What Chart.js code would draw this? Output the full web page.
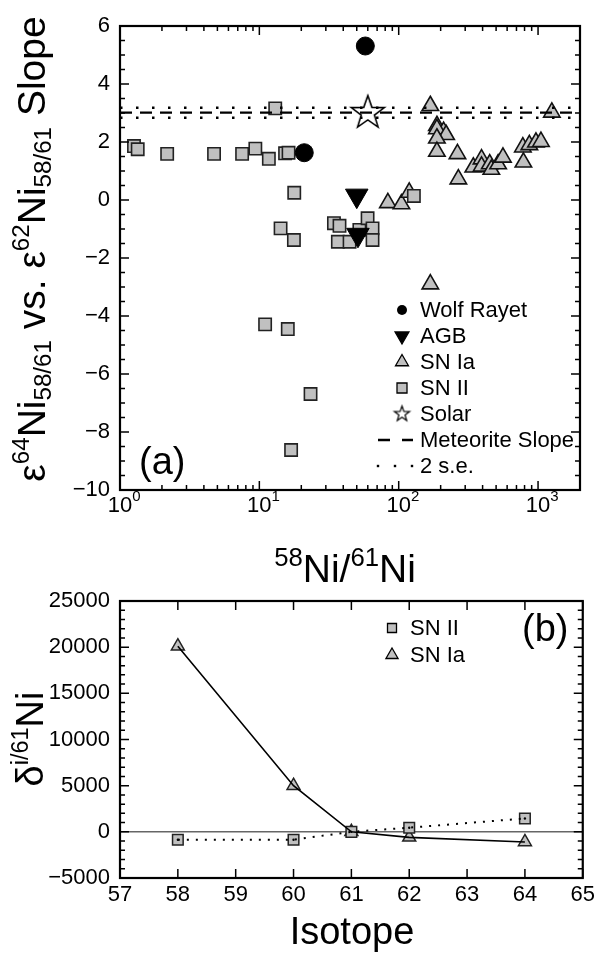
<!DOCTYPE html>
<html>
<head>
<meta charset="utf-8">
<title>Ni isotope slopes</title>
<script src="https://cdn.jsdelivr.net/npm/chart.js@4.4.1/dist/chart.umd.min.js"></script>
<style>
  html, body { margin: 0; padding: 0; background: #fff; }
  #wrap { position: relative; width: 599px; height: 954px; overflow: hidden; }
  canvas { position: absolute; left: 0; }
  #chartA { top: 0; }
  #chartB { top: 560px; }
</style>
</head>
<body>
<div id="wrap">
  <canvas id="chartA" width="599" height="600"></canvas>
  <canvas id="chartB" width="599" height="394"></canvas>
</div>
<script>
// ---- panel (a): slope vs 58Ni/61Ni ----
const wolfRayetX = [21.0, 57.6];
const wolfRayetY = [1.63, 5.31];
const agbX = [50, 51];
const agbY = [0.15, -1.2];
const solarX = [60];
const solarY = [3.0];
const snIIX = [1.26, 1.34, 2.18, 4.73, 7.52, 9.36, 11.7, 13.0, 15.3, 16.2, 17.8, 14.2, 17.7,
  34.3, 37.6, 36.6, 44.4, 52.2, 59.8, 64.9, 64.9, 128.5, 11.0, 16.0, 23.3, 16.9];
const snIIY = [1.86, 1.75, 1.59, 1.59, 1.59, 1.77, 1.42, 3.16, 1.61, 1.63, 0.25, -0.98, -1.38,
  -0.80, -0.89, -1.44, -1.44, -1.03, -0.63, -0.98, -1.38, 0.14, -4.29, -4.45, -6.69, -8.62];
const snIaX = [83.6, 104.6, 119, 168.6, 188, 210, 188, 219, 188, 188, 264, 268, 343, 393, 393,
  450, 462, 517, 560, 778, 866, 966, 1049, 785, 1256, 168.6];
const snIaY = [-0.1, -0.14, 0.26, 3.25, 2.56, 2.36, 2.45, 2.25, 2.13, 1.67, 1.59, 0.72, 1.13, 1.41, 1.16,
  1.24, 1.05, 1.24, 1.47, 1.82, 1.9, 1.99, 2.01, 1.3, 3.02, -2.9];
const meteoriteSlope = 3.01;
const slopeErr = 0.17;
const ratioRange = [1, 2000];
const ratioLabels = [1, 10, 100, 1000];
const slopeRange = [-10, 6];

// ---- panel (b): delta i/61 Ni vs isotope ----
const isotopes = [58, 60, 61, 62, 64];
const deltaSNII = [-850, -850, 0, 450, 1450];
const deltaSNIa = [20100, 5000, 0, -600, -1100];
const isotopeRange = [57, 65];
const deltaRange = [-5000, 25000];

const FONT = '"Liberation Sans", Arial, Helvetica, sans-serif';
const GREY = '#c0c0c0';
const pts = (xs, ys) => xs.map((x, i) => ({ x, y: ys[i] }));
const minus = v => (v < 0 ? '\u2212' + Math.abs(v) : String(v));

// text with super/subscripts, runs = [[text, 'n'|'sup'|'sub'], ...]
function drawRich(ctx, runs, x, y, size, align, scr = 0.62) {
  const parts = runs.map(([t, k]) => {
    const s = k === 'n' ? size : size * scr;
    ctx.font = s + 'px ' + FONT;
    return { t, k, s, w: ctx.measureText(t).width };
  });
  const total = parts.reduce((a, p) => a + p.w, 0);
  let cx = align === 'center' ? x - total / 2 : (align === 'right' ? x - total : x);
  ctx.textAlign = 'left';
  ctx.textBaseline = 'alphabetic';
  parts.forEach(p => {
    ctx.font = p.s + 'px ' + FONT;
    const dy = p.k === 'sup' ? -size * 0.4 : (p.k === 'sub' ? size * 0.15 : 0);
    ctx.fillText(p.t, cx, y + dy);
    cx += p.w;
  });
}

function drawFrame(chart, xTicks, yTicks) {
  const { ctx, chartArea: a, scales: { x, y } } = chart;
  ctx.save();
  ctx.strokeStyle = '#000';
  ctx.lineWidth = 1.5;
  ctx.beginPath();
  xTicks.forEach(([v, len]) => {
    const px = x.getPixelForValue(v);
    ctx.moveTo(px, a.bottom); ctx.lineTo(px, a.bottom - len);
    ctx.moveTo(px, a.top); ctx.lineTo(px, a.top + len);
  });
  yTicks.forEach(([v, len]) => {
    const py = y.getPixelForValue(v);
    ctx.moveTo(a.left, py); ctx.lineTo(a.left + len, py);
    ctx.moveTo(a.right, py); ctx.lineTo(a.right - len, py);
  });
  ctx.stroke();
  ctx.lineWidth = 2.2;
  ctx.strokeRect(a.left, a.top, a.right - a.left, a.bottom - a.top);
  ctx.restore();
}

function starCanvas(R, lw) {
  const size = Math.ceil(2 * R + 2 * lw + 2);
  const c = document.createElement('canvas');
  c.width = c.height = size;
  const g = c.getContext('2d');
  g.beginPath();
  for (let i = 0; i < 10; i++) {
    const r = i % 2 ? R * 0.4 : R;
    const ang = -Math.PI / 2 + i * Math.PI / 5;
    g.lineTo(size / 2 + r * Math.cos(ang), size / 2 + r * Math.sin(ang));
  }
  g.closePath();
  g.fillStyle = '#fff';
  g.fill();
  g.lineWidth = lw;
  g.strokeStyle = '#000';
  g.stroke();
  return c;
}
const bigStar = starCanvas(17.4, 1.6);
const smallStar = starCanvas(8, 1.2);

// legend marker shapes
function marker(ctx, kind, x, y, r) {
  ctx.save();
  ctx.strokeStyle = '#000';
  ctx.lineWidth = 1.3;
  ctx.beginPath();
  if (kind === 'circle') {
    ctx.arc(x, y, r, 0, Math.PI * 2);
    ctx.fillStyle = '#000'; ctx.fill();
  } else if (kind === 'down' || kind === 'up') {
    const s = kind === 'up' ? 1 : -1;
    ctx.moveTo(x, y - s * r);
    ctx.lineTo(x + r * 0.866, y + s * r / 2);
    ctx.lineTo(x - r * 0.866, y + s * r / 2);
    ctx.closePath();
    ctx.fillStyle = kind === 'up' ? GREY : '#000';
    ctx.fill(); ctx.stroke();
  } else if (kind === 'square') {
    ctx.rect(x - r, y - r, 2 * r, 2 * r);
    ctx.fillStyle = GREY; ctx.fill(); ctx.stroke();
  } else if (kind === 'star') {
    ctx.drawImage(smallStar, x - smallStar.width / 2, y - smallStar.height / 2);
  } else if (kind === 'dash') {
    ctx.lineWidth = 2.5;
    ctx.moveTo(x - 24, y); ctx.lineTo(x - 12, y);
    ctx.moveTo(x, y); ctx.lineTo(x + 11, y);
    ctx.stroke();
  } else if (kind === 'dots') {
    ctx.fillStyle = '#000';
    [-24, -7, 10].forEach(d => ctx.fillRect(x + d - 1.2, y - 1.2, 2.4, 2.4));
  }
  ctx.restore();
}

const legendA = [
  ['Wolf Rayet', 'circle', 5], ['AGB', 'down', 8], ['SN Ia', 'up', 7.5], ['SN II', 'square', 5],
  ['Solar', 'star', 0], ['Meteorite Slope', 'dash', 0], ['2 s.e.', 'dots', 0]
];

const panelA = {
  id: 'panelA',
  afterDraw(chart) {
    const { ctx, scales: { x } } = chart;
    const xTicks = [];
    for (let k = 0; k <= 3; k++) {
      for (let m = 1; m <= 9; m++) {
        const v = m * Math.pow(10, k);
        if (v <= ratioRange[1]) xTicks.push([v, m === 1 ? 9 : 5]);
      }
    }
    const yTicks = [];
    for (let v = slopeRange[0]; v <= slopeRange[1]; v += 0.5) yTicks.push([v, v % 2 === 0 ? 9 : 5]);
    drawFrame(chart, xTicks, yTicks);

    ctx.save();
    ctx.fillStyle = '#000';
    // log axis labels 10^n
    ratioLabels.forEach(v => {
      const px = x.getPixelForValue(v);
      ctx.font = '22px ' + FONT;
      ctx.textAlign = 'center';
      ctx.textBaseline = 'alphabetic';
      ctx.fillText('10', px, 512);
      const w = ctx.measureText('10').width;
      ctx.font = '15px ' + FONT;
      ctx.textAlign = 'left';
      ctx.fillText(String(Math.round(Math.log10(v))), px + w / 2, 501);
    });
    // axis titles
    drawRich(ctx, [['58', 'sup'], ['Ni', 'n'], ['/', 'n'], ['61', 'sup'], ['Ni', 'n']], 345, 582, 39, 'center', 0.66);
    ctx.save();
    ctx.translate(45, 249);
    ctx.rotate(-Math.PI / 2);
    drawRich(ctx, [['\u03b5', 'n'], ['64', 'sup'], ['Ni', 'n'], ['58/61', 'sub'], [' vs. ', 'n'],
      ['\u03b5', 'n'], ['62', 'sup'], ['Ni', 'n'], ['58/61', 'sub'], [' Slope', 'n']], 0, 0, 39, 'center');
    ctx.restore();
    // panel label
    ctx.font = '38px ' + FONT;
    ctx.textAlign = 'left';
    ctx.fillText('(a)', 139, 474);
    // legend
    legendA.forEach(([label, kind, r], i) => {
      const cy = 310 + i * 26;
      marker(ctx, kind, 402, cy, r);
      ctx.fillStyle = '#000';
      ctx.font = '22px ' + FONT;
      ctx.textAlign = 'left';
      ctx.textBaseline = 'middle';
      ctx.fillText(label, 420, cy + 1);
    });
    ctx.restore();
  }
};

new Chart(document.getElementById('chartA'), {
  type: 'scatter',
  data: {
    datasets: [
      { label: 'Meteorite Slope', data: [{ x: ratioRange[0], y: meteoriteSlope }, { x: ratioRange[1], y: meteoriteSlope }],
        showLine: true, borderColor: '#000', borderWidth: 2.2, borderDash: [12, 8], pointRadius: 0 },
      { label: '2 s.e. upper', data: [{ x: ratioRange[0], y: meteoriteSlope + slopeErr }, { x: ratioRange[1], y: meteoriteSlope + slopeErr }],
        showLine: true, borderColor: '#000', borderWidth: 2.5, borderDash: [2.5, 13.5], pointRadius: 0 },
      { label: '2 s.e. lower', data: [{ x: ratioRange[0], y: meteoriteSlope - slopeErr }, { x: ratioRange[1], y: meteoriteSlope - slopeErr }],
        showLine: true, borderColor: '#000', borderWidth: 2.5, borderDash: [2.5, 13.5], pointRadius: 0 },
      { label: 'Solar', data: pts(solarX, solarY), pointStyle: bigStar, pointRadius: 18 },
      { label: 'Wolf Rayet', data: pts(wolfRayetX, wolfRayetY), pointStyle: 'circle', pointRadius: 9,
        pointBackgroundColor: '#000', pointBorderColor: '#000', pointBorderWidth: 1 },
      { label: 'AGB', data: pts(agbX, agbY), pointStyle: 'triangle', pointRotation: 180, pointRadius: 13,
        pointBackgroundColor: '#000', pointBorderColor: '#000', pointBorderWidth: 1 },
      { label: 'SN II', data: pts(snIIX, snIIY), pointStyle: 'rect', pointRadius: 8.7,
        pointBackgroundColor: GREY, pointBorderColor: '#222', pointBorderWidth: 1.6 },
      { label: 'SN Ia', data: pts(snIaX, snIaY), pointStyle: 'triangle', pointRadius: 9.5,
        pointBackgroundColor: GREY, pointBorderColor: '#111', pointBorderWidth: 1.6 }
    ]
  },
  options: {
    responsive: false,
    animation: false,
    events: [],
    layout: { padding: { top: 26, right: 15, left: 0, bottom: 0 } },
    plugins: { legend: { display: false }, tooltip: { enabled: false } },
    scales: {
      x: {
        type: 'logarithmic', min: ratioRange[0], max: ratioRange[1],
        grid: { display: false, drawTicks: false }, border: { display: false },
        ticks: { display: false },
        afterFit: s => { s.height = 110; }
      },
      y: {
        min: slopeRange[0], max: slopeRange[1],
        grid: { display: false, drawTicks: false }, border: { display: false },
        ticks: { stepSize: 2, color: '#000', padding: 10, font: { size: 22, family: FONT }, callback: minus },
        afterFit: s => { s.width = 120; }
      }
    }
  },
  plugins: [panelA]
});

// ---- panel (b) ----
const offB = 560;
const panelB = {
  id: 'panelB',
  afterDraw(chart) {
    const { ctx } = chart;
    const xTicks = [];
    for (let v = isotopeRange[0]; v <= isotopeRange[1]; v++) xTicks.push([v, 9]);
    const yTicks = [];
    for (let v = deltaRange[0]; v <= deltaRange[1]; v += 1000) yTicks.push([v, v % 5000 === 0 ? 9 : 5]);
    drawFrame(chart, xTicks, yTicks);

    ctx.save();
    ctx.fillStyle = '#000';
    ctx.font = '38px ' + FONT;
    ctx.textAlign = 'center';
    ctx.textBaseline = 'alphabetic';
    ctx.fillText('Isotope', 352, 944 - offB);
    ctx.save();
    ctx.translate(43, 739 - offB);
    ctx.rotate(-Math.PI / 2);
    drawRich(ctx, [['\u03b4', 'n'], ['i/61', 'sup'], ['Ni', 'n']], 0, 0, 38, 'center');
    ctx.restore();
    ctx.font = '38px ' + FONT;
    ctx.textAlign = 'left';
    ctx.fillText('(b)', 522, 641 - offB);
    [['SN II', 'square', 4.5], ['SN Ia', 'up', 7]].forEach(([label, kind, r], i) => {
      const cy = 628 - offB + i * 27;
      marker(ctx, kind, 392, cy, r);
      ctx.fillStyle = '#000';
      ctx.font = '22px ' + FONT;
      ctx.textAlign = 'left';
      ctx.textBaseline = 'middle';
      ctx.fillText(label, 410, cy + 1);
    });
    ctx.restore();
  }
};

new Chart(document.getElementById('chartB'), {
  type: 'scatter',
  data: {
    datasets: [
      { label: 'SN Ia line', data: pts(isotopes, deltaSNIa), showLine: true, borderColor: '#000', borderWidth: 1.6, pointRadius: 0 },
      { label: 'SN II line', data: pts(isotopes, deltaSNII), showLine: true, borderColor: '#000', borderWidth: 2,
        borderDash: [2, 7], pointRadius: 0 },
      { label: 'SN II centre', data: pts(isotopes, deltaSNII), pointRadius: 1.2,
        pointBackgroundColor: '#000', pointBorderWidth: 0 },
      { label: 'SN II', data: pts(isotopes, deltaSNII), pointStyle: 'rect', pointRadius: 7.5,
        pointBackgroundColor: GREY, pointBorderColor: '#222', pointBorderWidth: 1.5 },
      { label: 'SN Ia', data: pts(isotopes, deltaSNIa), pointStyle: 'triangle', pointRadius: 7.5,
        pointBackgroundColor: GREY, pointBorderColor: '#222', pointBorderWidth: 1.5 },
      { label: 'zero', data: [{ x: isotopeRange[0], y: 0 }, { x: isotopeRange[1], y: 0 }], showLine: true,
        borderColor: '#666', borderWidth: 1.5, pointRadius: 0 }
    ]
  },
  options: {
    responsive: false,
    animation: false,
    events: [],
    layout: { padding: { top: 601 - offB, right: 15, left: 0, bottom: 0 } },
    plugins: { legend: { display: false }, tooltip: { enabled: false } },
    scales: {
      x: {
        min: isotopeRange[0], max: isotopeRange[1],
        grid: { display: false, drawTicks: false }, border: { display: false },
        ticks: { stepSize: 1, color: '#000', padding: 4, font: { size: 22, family: FONT }, maxRotation: 0 },
        afterFit: s => { s.height = 394 - (878 - offB); }
      },
      y: {
        min: deltaRange[0], max: deltaRange[1],
        grid: { display: false, drawTicks: false }, border: { display: false },
        ticks: { stepSize: 5000, color: '#000', padding: 10, font: { size: 22, family: FONT }, callback: minus },
        afterFit: s => { s.width = 120; }
      }
    }
  },
  plugins: [panelB]
});
</script>
</body>
</html>
